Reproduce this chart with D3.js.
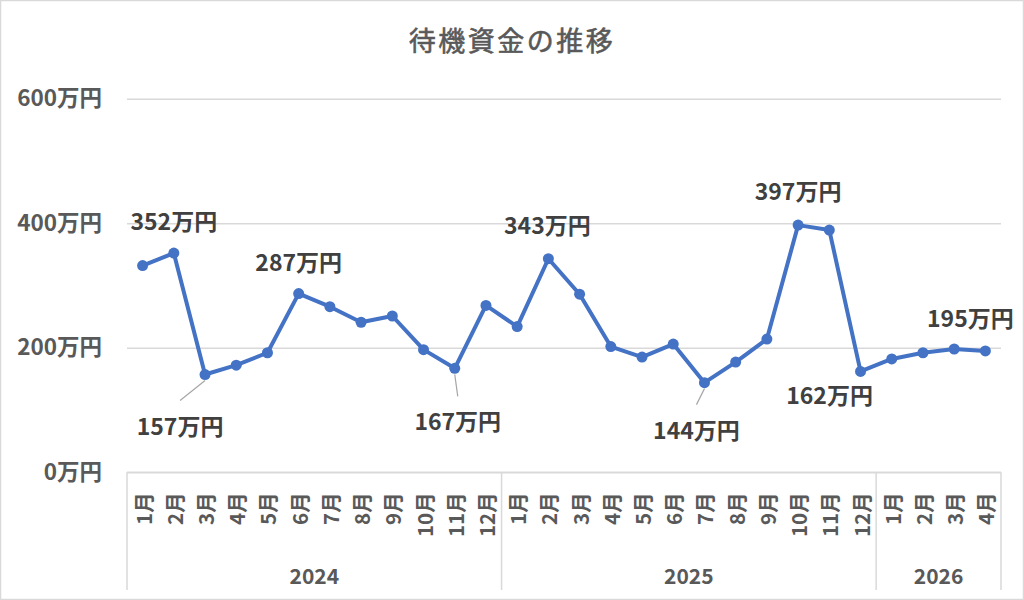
<!DOCTYPE html>
<html>
<head>
<meta charset="utf-8">
<script src="https://cdn.jsdelivr.net/npm/d3@7"></script>
<style>
  body { margin: 0; background: #fff; }
  text { font-family: "Noto Sans CJK JP", "Noto Sans", sans-serif; }
</style>
</head>
<body>
<div id="chart"></div>
<script>
// data
let years = ["2024", "2025", "2026"]
let monthsPerYear = [12, 12, 4]
let values = [332, 352, 157, 172, 192, 287, 266, 241, 251, 197, 167, 268,
              234, 343, 286, 202, 185, 206, 144, 177, 214, 397, 389, 162,
              182, 192, 198, 195]
let yTicks = [0, 200, 400, 600]
let labeled = [1, 2, 5, 10, 13, 18, 21, 23, 27]

// label placement (offset from the point), leader = draw a connector
let labelPos = {
  1: {dx: 0, dy: -33}, 2: {dx: -25, dy: 50, leader: true}, 5: {dx: 0, dy: -33},
  10: {dx: 3, dy: 52, leader: true}, 13: {dx: -1, dy: -35}, 18: {dx: -8, dy: 46, leader: true},
  21: {dx: 0, dy: -35}, 23: {dx: -31, dy: 23}, 27: {dx: -15, dy: -34}
}

let width = 1024, height = 600
let plot = {left: 127, right: 1001, top: 98.7, bottom: 472.3}

// build month categories
let cats = []
years.forEach((yr, yi) => {
  for (let m = 1; m <= monthsPerYear[yi]; m++) cats.push({year: yr, month: m + "月"})
})

let svg = d3.select("#chart").append("svg")
  .attr("width", width).attr("height", height)

svg.append("rect")
  .attr("x", 0.5).attr("y", 0.5)
  .attr("width", width - 1).attr("height", height - 1)
  .attr("fill", "#fff").attr("stroke", "#d9d9d9").attr("stroke-width", 1.5)

let x = d3.scaleBand().domain(d3.range(cats.length)).range([plot.left, plot.right]).padding(0)
let y = d3.scaleLinear().domain([0, 600]).range([plot.bottom, plot.top])
let cx = i => x(i) + x.bandwidth() / 2

svg.append("text")
  .attr("x", 512).attr("y", 39)
  .attr("text-anchor", "middle").attr("dominant-baseline", "central")
  .attr("font-size", 27).attr("letter-spacing", 2.5).attr("fill", "#595959")
  .attr("stroke", "#595959").attr("stroke-width", 0.6)
  .text("待機資金の推移")

// gridlines + y labels
let yAxis = d3.axisLeft(y).tickValues(yTicks).tickSize(-(plot.right - plot.left)).tickFormat(d => d + "万円")
let gy = svg.append("g").attr("transform", `translate(${plot.left},0)`).call(yAxis)
gy.select(".domain").remove()
gy.selectAll(".tick line").attr("stroke", "#d9d9d9").attr("stroke-width", 1.5)
gy.selectAll(".tick text")
  .attr("x", -25).attr("font-size", 22.5).attr("font-weight", "bold").attr("fill", "#595959")
  .style("font-family", '"Noto Sans CJK JP", sans-serif')

// category axis box
let axisBottom = 590
let g = svg.append("g")
g.append("line")
  .attr("x1", plot.left).attr("x2", plot.right).attr("y1", plot.bottom).attr("y2", plot.bottom)
  .attr("stroke", "#d9d9d9").attr("stroke-width", 1.5)

let start = 0
let bounds = [plot.left]
years.forEach((yr, yi) => {
  let end = start + monthsPerYear[yi]
  let x0 = x(start), x1 = end < cats.length ? x(end) : plot.right
  bounds.push(x1)
  g.append("text")
    .attr("x", (x0 + x1) / 2).attr("y", 575)
    .attr("text-anchor", "middle").attr("dominant-baseline", "central")
    .attr("font-size", 21).attr("font-weight", "bold").attr("fill", "#595959")
    .text(yr)
  start = end
})
g.selectAll(".sep").data(bounds).enter().append("line")
  .attr("class", "sep")
  .attr("x1", d => d).attr("x2", d => d)
  .attr("y1", plot.bottom).attr("y2", axisBottom)
  .attr("stroke", "#d9d9d9").attr("stroke-width", 1.5)

g.selectAll(".mlabel").data(cats).enter().append("text")
  .attr("class", "mlabel")
  .attr("transform", (d, i) => `translate(${cx(i)},${plot.bottom + 20}) rotate(-90)`)
  .attr("text-anchor", "end").attr("dominant-baseline", "central")
  .attr("font-size", 20.5).attr("font-weight", "bold").attr("fill", "#595959")
  .text(d => d.month)

// line + markers
let line = d3.line().x((d, i) => cx(i)).y(d => y(d))
svg.append("path")
  .datum(values)
  .attr("d", line)
  .attr("fill", "none").attr("stroke", "#4472c4").attr("stroke-width", 4)
  .attr("stroke-linejoin", "round")

svg.selectAll(".dot").data(values).enter().append("circle")
  .attr("class", "dot")
  .attr("cx", (d, i) => cx(i)).attr("cy", d => y(d)).attr("r", 5.5)
  .attr("fill", "#4472c4")

// data labels
labeled.forEach(i => {
  let p = labelPos[i]
  let px = cx(i), py = y(values[i])
  let lx = px + p.dx, ly = py + p.dy
  if (p.leader) {
    svg.append("line")
      .attr("x1", lx).attr("y1", ly - 24).attr("x2", px).attr("y2", py + 6)
      .attr("stroke", "#a6a6a6").attr("stroke-width", 1.2)
  }
  svg.append("text")
    .attr("x", lx).attr("y", ly)
    .attr("text-anchor", "middle").attr("dominant-baseline", "central")
    .attr("font-size", 23).attr("font-weight", "bold").attr("fill", "#404040")
    .text(values[i] + "万円")
})
</script>
</body>
</html>
